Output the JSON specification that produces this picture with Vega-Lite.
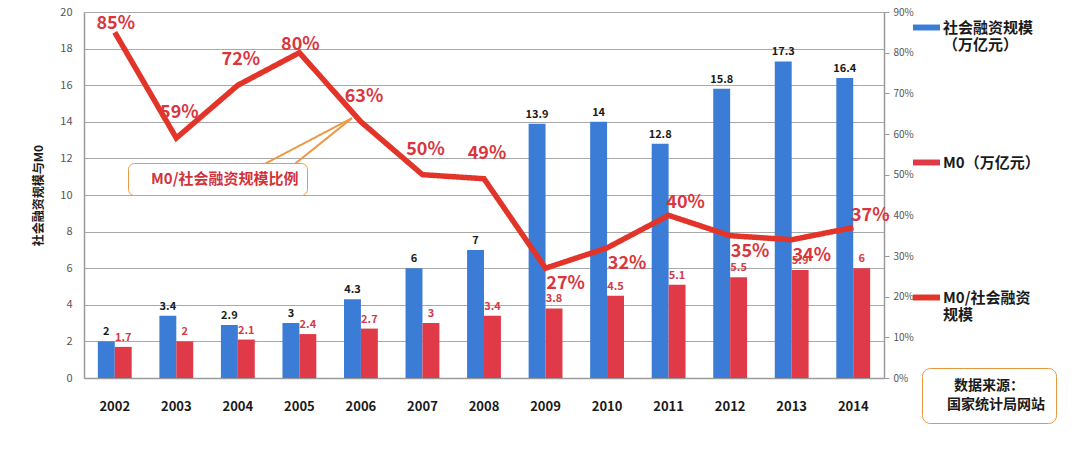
{
  "$schema": "https://vega.github.io/schema/vega-lite/v6.json",
  "width": 800,
  "height": 366,
  "autosize": "none",
  "padding": {"left": 84, "top": 12, "right": 200, "bottom": 82},
  "background": "#ffffff",
  "config": {"font": "Noto Sans CJK SC", "view": {"stroke": null}},
  "datasets": {
    "bars": [
      {"year": "2002", "series": "社会融资规模（万亿元）", "value": 2},
      {"year": "2002", "series": "M0（万亿元）", "value": 1.7},
      {"year": "2003", "series": "社会融资规模（万亿元）", "value": 3.4},
      {"year": "2003", "series": "M0（万亿元）", "value": 2},
      {"year": "2004", "series": "社会融资规模（万亿元）", "value": 2.9},
      {"year": "2004", "series": "M0（万亿元）", "value": 2.1},
      {"year": "2005", "series": "社会融资规模（万亿元）", "value": 3},
      {"year": "2005", "series": "M0（万亿元）", "value": 2.4},
      {"year": "2006", "series": "社会融资规模（万亿元）", "value": 4.3},
      {"year": "2006", "series": "M0（万亿元）", "value": 2.7},
      {"year": "2007", "series": "社会融资规模（万亿元）", "value": 6},
      {"year": "2007", "series": "M0（万亿元）", "value": 3},
      {"year": "2008", "series": "社会融资规模（万亿元）", "value": 7},
      {"year": "2008", "series": "M0（万亿元）", "value": 3.4},
      {"year": "2009", "series": "社会融资规模（万亿元）", "value": 13.9},
      {"year": "2009", "series": "M0（万亿元）", "value": 3.8},
      {"year": "2010", "series": "社会融资规模（万亿元）", "value": 14},
      {"year": "2010", "series": "M0（万亿元）", "value": 4.5},
      {"year": "2011", "series": "社会融资规模（万亿元）", "value": 12.8},
      {"year": "2011", "series": "M0（万亿元）", "value": 5.1},
      {"year": "2012", "series": "社会融资规模（万亿元）", "value": 15.8},
      {"year": "2012", "series": "M0（万亿元）", "value": 5.5},
      {"year": "2013", "series": "社会融资规模（万亿元）", "value": 17.3},
      {"year": "2013", "series": "M0（万亿元）", "value": 5.9},
      {"year": "2014", "series": "社会融资规模（万亿元）", "value": 16.4},
      {"year": "2014", "series": "M0（万亿元）", "value": 6}
    ],
    "ratio": [
      {"year": "2002", "ratio": 0.85},
      {"year": "2003", "ratio": 0.59},
      {"year": "2004", "ratio": 0.72},
      {"year": "2005", "ratio": 0.80},
      {"year": "2006", "ratio": 0.63},
      {"year": "2007", "ratio": 0.50},
      {"year": "2008", "ratio": 0.49},
      {"year": "2009", "ratio": 0.27},
      {"year": "2010", "ratio": 0.32},
      {"year": "2011", "ratio": 0.40},
      {"year": "2012", "ratio": 0.35},
      {"year": "2013", "ratio": 0.34},
      {"year": "2014", "ratio": 0.37}
    ]
  },
  "layer": [
    {
      "data": {"name": "bars"},
      "layer": [
        {
          "mark": {"type": "bar"},
          "encoding": {
            "x": {
              "field": "year", "type": "ordinal",
              "scale": {"paddingInner": 0.45, "paddingOuter": 0.225},
              "axis": {"title": null, "labelAngle": 0, "labelFontSize": 13, "labelFontWeight": "bold", "labelColor": "#1a1a1a", "labelPadding": 22, "ticks": false, "domainColor": "#9a9a9a", "domainWidth": 1.5}
            },
            "xOffset": {"field": "series", "type": "nominal", "sort": ["社会融资规模（万亿元）", "M0（万亿元）"], "scale": {"paddingInner": 0, "paddingOuter": 0}},
            "y": {
              "field": "value", "type": "quantitative",
              "scale": {"domain": [0, 20], "nice": false},
              "axis": {"values": [0, 2, 4, 6, 8, 10, 12, 14, 16, 18, 20], "tickCount": 11, "labelOverlap": false, "grid": true, "gridColor": "#a9a9a9", "ticks": false, "domainColor": "#9a9a9a", "domainWidth": 1.5, "labelColor": "#555555", "labelFontSize": 11, "labelPadding": 12, "title": "社会融资规模与M0", "titleFontSize": 12, "titleFontWeight": "bold", "titleColor": "#1a1a1a", "titlePadding": 14}
            },
            "color": {
              "field": "series", "type": "nominal",
              "scale": {"domain": ["社会融资规模（万亿元）", "M0（万亿元）", "M0/社会融资规模"], "range": ["#3b7dd6", "#e03a48", "#e3342a"]},
              "legend": {
                "orient": "none", "legendX": 829, "legendY": 2, "title": null, "direction": "vertical",
                "symbolType": "M-1,-0.22H1V0.22H-1Z", "symbolSize": 729, "symbolStrokeWidth": 0,
                "labelFontSize": 15, "labelFontWeight": "bold", "labelColor": "#1a1a1a", "labelOffset": 3,
                "labelExpr": "datum.label == '社会融资规模（万亿元）' ? ['社会融资规模', '（万亿元）'] : datum.label == 'M0/社会融资规模' ? ['M0/社会融资', '规模'] : datum.label",
                "rowPadding": 96, "gridAlign": "all", "labelLimit": 200
              }
            }
          }
        },
        {
          "mark": {"type": "text", "baseline": "bottom", "dy": -4, "fontSize": 11, "fontWeight": "bold"},
          "encoding": {
            "x": {"field": "year", "type": "ordinal"},
            "xOffset": {"field": "series", "type": "nominal", "sort": ["社会融资规模（万亿元）", "M0（万亿元）"]},
            "y": {
              "field": "value", "type": "quantitative",
              "axis": {"values": [0, 2, 4, 6, 8, 10, 12, 14, 16, 18, 20], "tickCount": 11, "labelOverlap": false, "grid": true, "gridColor": "#a9a9a9", "ticks": false, "domainColor": "#9a9a9a", "domainWidth": 1.5, "labelColor": "#555555", "labelFontSize": 11, "labelPadding": 12, "title": "社会融资规模与M0", "titleFontSize": 12, "titleFontWeight": "bold", "titleColor": "#1a1a1a", "titlePadding": 14}
            },
            "text": {"field": "value", "type": "quantitative"},
            "color": {"condition": {"test": "datum.series === 'M0（万亿元）'", "value": "#d23c46"}, "value": "#1a1a1a"}
          }
        },
        {
          "data": {"values": [{"note": "M0/社会融资规模比例"}]},
          "mark": {"type": "rule", "color": "#eb9a48", "strokeWidth": 2, "xOffset": 20, "x2Offset": -9},
          "encoding": {
            "x": {"datum": "2004", "type": "ordinal"},
            "x2": {"datum": "2006"},
            "y": {"datum": 11.5, "type": "quantitative"},
            "y2": {"datum": 14.2},
            "strokeDash": {
              "datum": "M0/社会融资规模比例", "scale": {"range": [[1, 0]]},
              "legend": {"orient": "none", "legendX": 44, "legendY": 151, "title": null, "symbolSize": 0, "symbolOpacity": 0, "symbolStrokeWidth": 0, "labelOffset": 0, "labelFontSize": 15, "labelFontWeight": "bold", "labelColor": "#d2333b", "padding": 8, "strokeColor": "#eb9a48", "cornerRadius": 6, "fillColor": "#ffffff", "labelLimit": 300}
            }
          }
        },
        {
          "data": {"values": [{"note": "M0/社会融资规模比例"}]},
          "mark": {"type": "rule", "color": "#eb9a48", "strokeWidth": 2, "xOffset": -9, "x2Offset": -9},
          "encoding": {
            "x": {"datum": "2005", "type": "ordinal"},
            "x2": {"datum": "2006"},
            "y": {"datum": 11.5, "type": "quantitative"},
            "y2": {"datum": 14.2}
          }
        }
      ]
    },
    {
      "data": {"name": "ratio"},
      "layer": [
        {
          "mark": {"type": "line", "strokeWidth": 5.5},
          "encoding": {
            "x": {"field": "year", "type": "ordinal"},
            "y": {
              "field": "ratio", "type": "quantitative",
              "scale": {"domain": [0, 0.9], "nice": false},
              "axis": {"orient": "right", "format": ".0%", "values": [0, 0.1, 0.2, 0.3, 0.4, 0.5, 0.6, 0.7, 0.8, 0.9], "grid": false, "tickColor": "#9a9a9a", "tickSize": 5, "domainColor": "#9a9a9a", "domainWidth": 1.5, "labelFontSize": 10, "labelColor": "#555555", "labelPadding": 4, "title": null}
            },
            "color": {"datum": "M0/社会融资规模"},
            "strokeDash": {
              "datum": "国家统计局网站", "scale": {"range": [[1, 0]]},
              "legend": {"orient": "none", "legendX": 838, "legendY": 356, "title": "数据来源：", "titleFontSize": 14, "titleFontWeight": "bold", "titleColor": "#1a1a1a", "titleAnchor": "middle", "titlePadding": 5, "labelFontSize": 14, "labelFontWeight": "bold", "labelColor": "#1a1a1a", "symbolSize": 0, "symbolOpacity": 0, "symbolStrokeWidth": 0, "labelOffset": 0, "padding": 11, "strokeColor": "#e8973e", "cornerRadius": 8, "fillColor": "#ffffff"}
            }
          }
        },
        {
          "transform": [{"filter": {"field": "year", "oneOf": ["2003", "2004", "2006", "2007", "2008"]}}],
          "mark": {"type": "text", "fontSize": 18, "fontWeight": "bold", "color": "#d9363e", "dy": -25, "dx": 3},
          "encoding": {
            "x": {"field": "year", "type": "ordinal"},
            "y": {"field": "ratio", "type": "quantitative"},
            "text": {"field": "ratio", "type": "quantitative", "format": ".0%"}
          }
        },
        {
          "transform": [{"filter": {"field": "year", "oneOf": ["2002", "2005"]}}],
          "mark": {"type": "text", "fontSize": 18, "fontWeight": "bold", "color": "#d9363e", "dy": -8, "dx": 1},
          "encoding": {
            "x": {"field": "year", "type": "ordinal"},
            "y": {"field": "ratio", "type": "quantitative"},
            "text": {"field": "ratio", "type": "quantitative", "format": ".0%"}
          }
        },
        {
          "transform": [{"filter": {"field": "year", "oneOf": ["2009", "2010", "2012", "2013"]}}],
          "mark": {"type": "text", "fontSize": 18, "fontWeight": "bold", "color": "#d9363e", "dy": 16, "dx": 20},
          "encoding": {
            "x": {"field": "year", "type": "ordinal"},
            "y": {"field": "ratio", "type": "quantitative"},
            "text": {"field": "ratio", "type": "quantitative", "format": ".0%"}
          }
        },
        {
          "transform": [{"filter": {"field": "year", "oneOf": ["2011", "2014"]}}],
          "mark": {"type": "text", "fontSize": 18, "fontWeight": "bold", "color": "#d9363e", "dy": -12, "dx": 17},
          "encoding": {
            "x": {"field": "year", "type": "ordinal"},
            "y": {"field": "ratio", "type": "quantitative"},
            "text": {"field": "ratio", "type": "quantitative", "format": ".0%"}
          }
        }
      ]
    }
  ],
  "resolve": {"scale": {"y": "independent", "strokeDash": "independent"}, "legend": {"strokeDash": "independent"}}
}
